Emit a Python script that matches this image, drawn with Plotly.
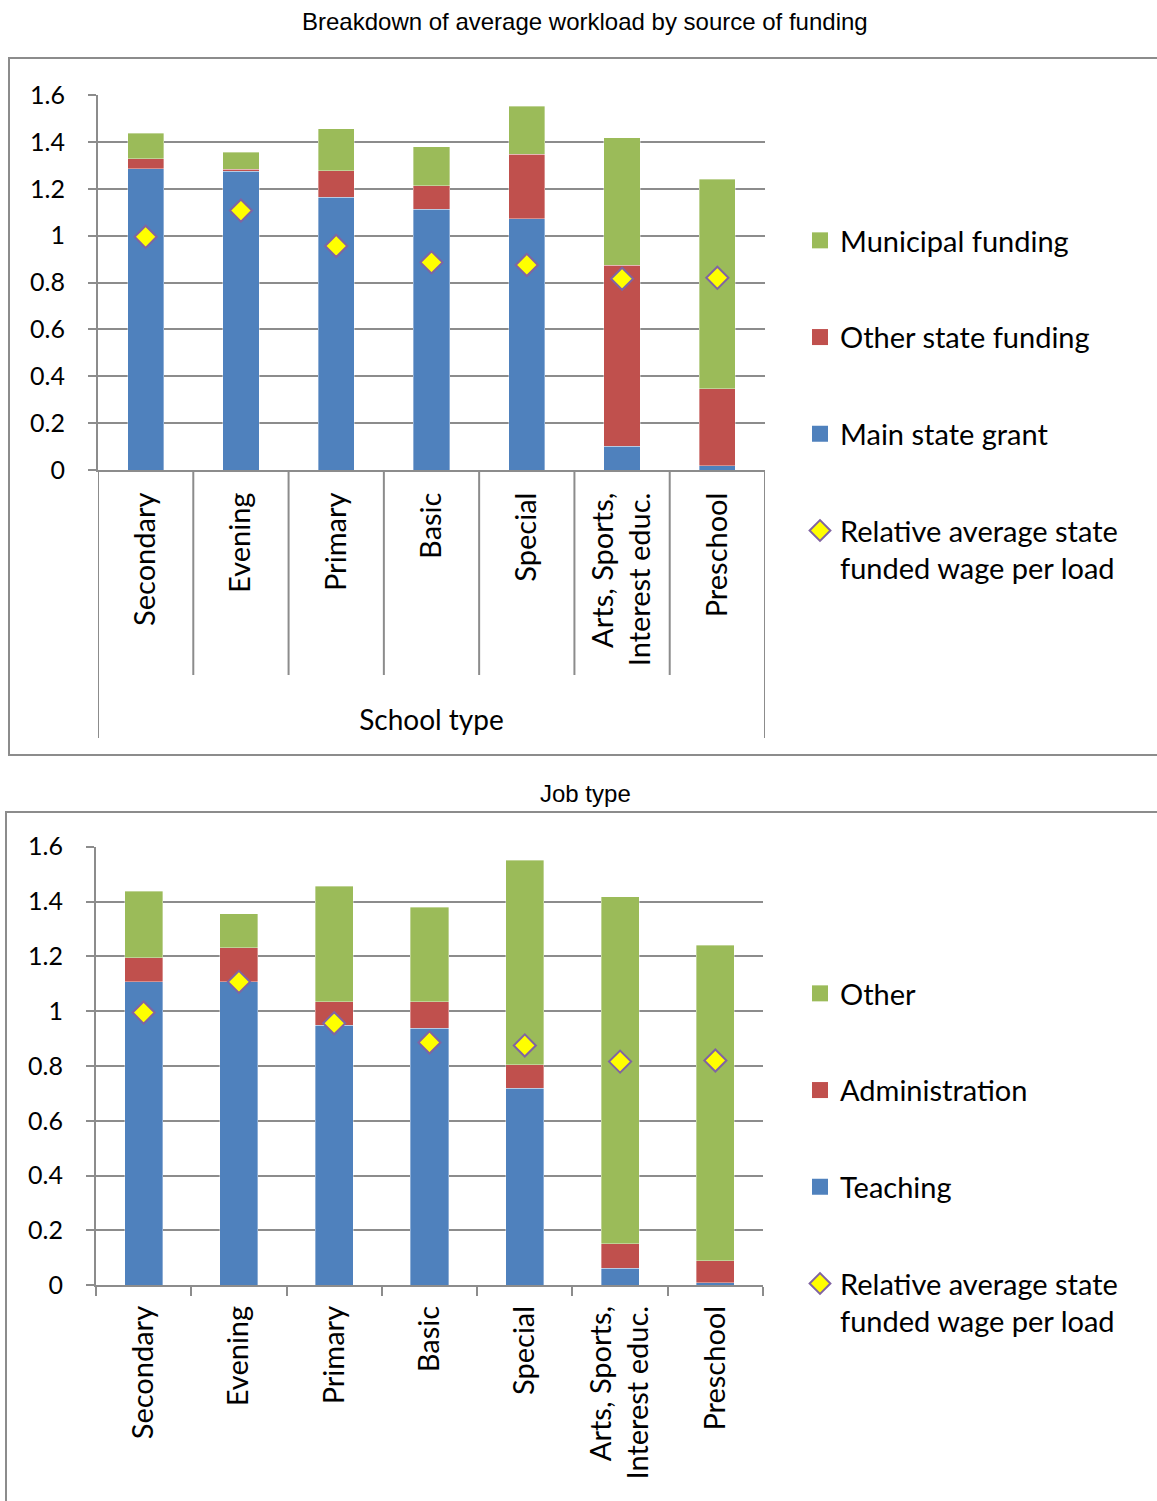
import plotly.graph_objects as go

# ---- data -------------------------------------------------------------
school_types = ["Secondary", "Evening", "Primary", "Basic", "Special",
                "Arts, Sports,<br>Interest educ.", "Preschool"]

# Breakdown of average workload by source of funding
main_state_grant = [1.285, 1.274, 1.163, 1.112, 1.071, 0.102, 0.018]
other_state_funding = [0.042, 0.010, 0.113, 0.101, 0.277, 0.771, 0.329]
municipal_funding = [0.110, 0.072, 0.179, 0.166, 0.203, 0.544, 0.894]

# Breakdown by job type
teaching = [1.107, 1.107, 0.949, 0.938, 0.719, 0.062, 0.010]
administration = [0.088, 0.124, 0.086, 0.097, 0.085, 0.089, 0.079]
other_work = [0.242, 0.125, 0.420, 0.344, 0.747, 1.266, 1.152]

# Relative average state funded wage per load
wage_per_load = [0.995, 1.107, 0.956, 0.886, 0.875, 0.816, 0.820]

y_ticks = [0, 0.2, 0.4, 0.6, 0.8, 1.0, 1.2, 1.4, 1.6]
y_tick_text = ["0", "0.2", "0.4", "0.6", "0.8", "1", "1.2", "1.4", "1.6"]

# ---- styling ----------------------------------------------------------
BLUE, RED, GREEN = "#4F81BD", "#C0504D", "#9BBB59"
DIAMOND_FILL, DIAMOND_EDGE = "#FFFF00", "#8064A2"
GRID = "#8C8C8C"
FONT = "Lato"
W, H = 1157, 1501


def px_x(v):
    return v / W


def px_y(v):
    return 1 - v / H


fig = go.Figure()


def add_panel(xa, ya, legend, series, bar_width):
    """Stacked bars + diamond markers on one pair of axes, with legend proxies."""
    xref = "x" if xa == 1 else f"x{xa}"
    yref = "y" if ya == 1 else f"y{ya}"
    for name, vals, color in series:
        fig.add_trace(go.Bar(
            x=school_types, y=vals, name=name, width=bar_width,
            marker=dict(color=color, line=dict(width=0.6, color="rgba(255,255,255,0.6)")),
            xaxis=xref, yaxis=yref, showlegend=False,
        ))
    fig.add_trace(go.Scatter(
        x=school_types, y=wage_per_load, mode="markers",
        marker=dict(symbol="diamond", size=17, color=DIAMOND_FILL,
                    line=dict(color=DIAMOND_EDGE, width=2)),
        xaxis=xref, yaxis=yref, showlegend=False, cliponaxis=False,
    ))
    # legend entries, top to bottom
    for i, (name, vals, color) in enumerate(reversed(series)):
        fig.add_trace(go.Scatter(
            x=[None], y=[None], mode="markers", name=name,
            marker=dict(symbol="square", size=20, color=color),
            xaxis=xref, yaxis=yref, legend=legend, legendgroup=f"{legend}{i}",
        ))
    fig.add_trace(go.Scatter(
        x=[None], y=[None], mode="markers",
        name="Relative average state<br>funded wage per load",
        marker=dict(symbol="diamond", size=16, color=DIAMOND_FILL,
                    line=dict(color=DIAMOND_EDGE, width=2)),
        xaxis=xref, yaxis=yref, legend=legend, legendgroup=f"{legend}d",
    ))


add_panel(1, 1, "legend", [
    ("Main state grant", main_state_grant, BLUE),
    ("Other state funding", other_state_funding, RED),
    ("Municipal funding", municipal_funding, GREEN),
], 0.38)

add_panel(2, 2, "legend2", [
    ("Teaching", teaching, BLUE),
    ("Administration", administration, RED),
    ("Other", other_work, GREEN),
], 0.40)

yaxis_common = dict(
    range=[0, 1.6], tickvals=y_ticks, ticktext=y_tick_text,
    showgrid=True, gridcolor=GRID, gridwidth=2,
    showline=True, linecolor=GRID, linewidth=2,
    ticks="outside", ticklen=8, tickcolor=GRID, tickwidth=2,
    tickfont=dict(family=FONT, size=25, color="black"),
    ticklabelstandoff=18, zeroline=False, fixedrange=True, automargin=False,
)
xaxis_common = dict(
    type="category", range=[-0.5, 6.5], tickangle=-90,
    showline=True, linecolor=GRID, linewidth=2, showgrid=False,
    tickfont=dict(family=FONT, size=29, color="black"), fixedrange=True,
    automargin=False,
)

fig.update_layout(
    width=W, height=H, margin=dict(l=0, r=0, t=0, b=0, autoexpand=False),
    paper_bgcolor="white", plot_bgcolor="white",
    barmode="stack", showlegend=True,
    xaxis=dict(xaxis_common, domain=[px_x(98), px_x(765)], anchor="y",
               ticks="", ticklabelstandoff=9,
               title=dict(text="School type", standoff=45,
                          font=dict(family=FONT, size=28, color="black"))),
    yaxis=dict(yaxis_common, domain=[px_y(470), px_y(95)], anchor="x"),
    xaxis2=dict(xaxis_common, domain=[px_x(96), px_x(763)], anchor="y2",
                ticks="outside", tickson="boundaries", ticklen=9,
                tickcolor=GRID, tickwidth=2, ticklabelstandoff=7),
    yaxis2=dict(yaxis_common, domain=[px_y(1285.3), px_y(846.7)], anchor="x2"),
    legend=dict(x=px_x(800), y=px_y(215), xanchor="left", yanchor="top",
                font=dict(family=FONT, size=29, color="black"),
                tracegroupgap=56, valign="top", bgcolor="rgba(0,0,0,0)"),
    legend2=dict(x=px_x(800), y=px_y(968), xanchor="left", yanchor="top",
                 font=dict(family=FONT, size=29, color="black"),
                 tracegroupgap=56, valign="top", bgcolor="rgba(0,0,0,0)"),
)

shapes = []
# chart frames
shapes.append(dict(type="rect", xref="paper", yref="paper",
                   x0=px_x(9), x1=1.01, y0=px_y(755), y1=px_y(58),
                   line=dict(color=GRID, width=2)))
shapes.append(dict(type="rect", xref="paper", yref="paper",
                   x0=px_x(6), x1=1.01, y0=-0.01, y1=px_y(812),
                   line=dict(color=GRID, width=2)))
# category separators under the first chart's axis
inner_depth = -(675 - 470) / (470 - 95)
outer_depth = -(738 - 470) / (470 - 95)
n = len(school_types)
for k in range(n + 1):
    depth = outer_depth if k in (0, n) else inner_depth
    shapes.append(dict(type="line", xref="x", yref="y domain",
                       x0=k - 0.5, x1=k - 0.5, y0=0, y1=depth,
                       line=dict(color=GRID, width=2)))
fig.update_layout(shapes=shapes)

fig.add_annotation(text="Breakdown of average workload by source of funding",
                   xref="paper", yref="paper", x=px_x(585), y=px_y(22),
                   xanchor="center", yanchor="middle", showarrow=False,
                   font=dict(family="Liberation Sans", size=24, color="black"))
fig.add_annotation(text="Job type",
                   xref="paper", yref="paper", x=px_x(585), y=px_y(793),
                   xanchor="center", yanchor="middle", showarrow=False,
                   font=dict(family="Liberation Sans", size=24, color="black"))

fig.write_html("out.html")
